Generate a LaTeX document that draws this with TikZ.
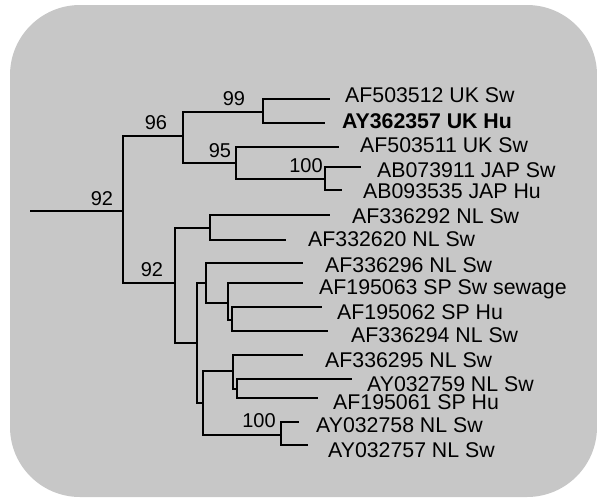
\documentclass[tikz,border=0pt]{standalone}
\usepackage{fontspec}
\setmainfont{Liberation Sans}
\definecolor{panel}{gray}{0.78}

\begin{document}
\begin{tikzpicture}[
  x=1pt, y=-1pt,
  branch/.style={draw, line width=2.4pt},
  taxon/.style={anchor=base west, inner sep=0pt, text depth=0pt,
                text height=15.2pt, font=\fontsize{21.3}{24}\selectfont},
  boot/.style={inner sep=0pt, font=\fontsize{20}{22}\selectfont}
]
\useasboundingbox (0,0) rectangle (597,498);
\fill[panel, rounded corners=70pt] (10,5) rectangle (597,497);

% root and internal nodes
\coordinate (root) at (30,211);
\coordinate (n92a) at (123,211);
\coordinate (n96) at (183,136);
\coordinate (n99) at (263,112);
\coordinate (n95) at (236,163);
\coordinate (n100a) at (325,179);
\coordinate (n92b) at (175,283);
\coordinate (nc1) at (210,228);
\coordinate (nh) at (197,343);
\coordinate (nc) at (206,283);
\coordinate (na) at (228,303);
\coordinate (nb) at (232,320);
\coordinate (ng) at (203,403);
\coordinate (nd) at (233,371);
\coordinate (ne) at (237,389);
\coordinate (n100b) at (281,435);

% branch tips
\coordinate (af503512) at (330,99);
\coordinate (ay362357) at (325,123);
\coordinate (af503511) at (339,147);
\coordinate (ab073911) at (361,167);
\coordinate (ab093535) at (342,190);
\coordinate (af336292) at (330,215);
\coordinate (af332620) at (286,240);
\coordinate (af336296) at (303,263);
\coordinate (af195063) at (303,283);
\coordinate (af195062) at (322,307);
\coordinate (af336294) at (328,331);
\coordinate (af336295) at (303,355);
\coordinate (ay032759) at (352,379);
\coordinate (af195061) at (318,398);
\coordinate (ay032758) at (299,422);
\coordinate (ay032757) at (308,445);

% strain names
\node[taxon] (af503512-name) at (345,102) {AF503512 UK Sw};
\node[taxon, font=\fontsize{21.3}{24}\selectfont\bfseries]
  (ay362357-name) at (342,128) {AY362357 UK Hu};
\node[taxon] (af503511-name) at (360,152) {AF503511 UK Sw};
\node[taxon] (ab073911-name) at (377,177) {AB073911 JAP Sw};
\node[taxon] (ab093535-name) at (363,198) {AB093535 JAP Hu};
\node[taxon] (af336292-name) at (352,223) {AF336292 NL Sw};
\node[taxon] (af332620-name) at (308,246) {AF332620 NL Sw};
\node[taxon] (af336296-name) at (325,272) {AF336296 NL Sw};
\node[taxon] (af195063-name) at (319,294) {AF195063 SP Sw sewage};
\node[taxon] (af195062-name) at (337,319) {AF195062 SP Hu};
\node[taxon] (af336294-name) at (351,342) {AF336294 NL Sw};
\node[taxon] (af336295-name) at (325,367) {AF336295 NL Sw};
\node[taxon] (ay032759-name) at (367,391) {AY032759 NL Sw};
\node[taxon] (af195061-name) at (333,409) {AF195061 SP Hu};
\node[taxon] (ay032758-name) at (316,432) {AY032758 NL Sw};
\node[taxon] (ay032757-name) at (328,457) {AY032757 NL Sw};

% bootstrap values
\node[boot] (b92root) at (102,199) {92};
\node[boot] (b96) at (156,123) {96};
\node[boot] (b99) at (234,99) {99};
\node[boot] (b95) at (220,151) {95};
\node[boot] (b100a) at (306,166) {100};
\node[boot] (b92low) at (152,270) {92};
\node[boot] (b100b) at (259,421) {100};

% branches
\draw[branch] (root) -- (n92a);
\foreach \a/\b in {n92a/n96, n92a/n92b,
                   n96/n99, n96/n95,
                   n99/af503512, n99/ay362357,
                   n95/af503511, n95/n100a,
                   n100a/ab073911, n100a/ab093535,
                   n92b/nc1, n92b/nh,
                   nc1/af336292, nc1/af332620,
                   nh/nc, nh/ng,
                   nc/af336296, nc/na,
                   na/af195063, na/nb,
                   nb/af195062, nb/af336294,
                   ng/nd, ng/n100b,
                   nd/af336295, nd/ne,
                   ne/ay032759, ne/af195061,
                   n100b/ay032758, n100b/ay032757}
  \draw[branch] (\a) |- (\b);
\end{tikzpicture}
\end{document}
